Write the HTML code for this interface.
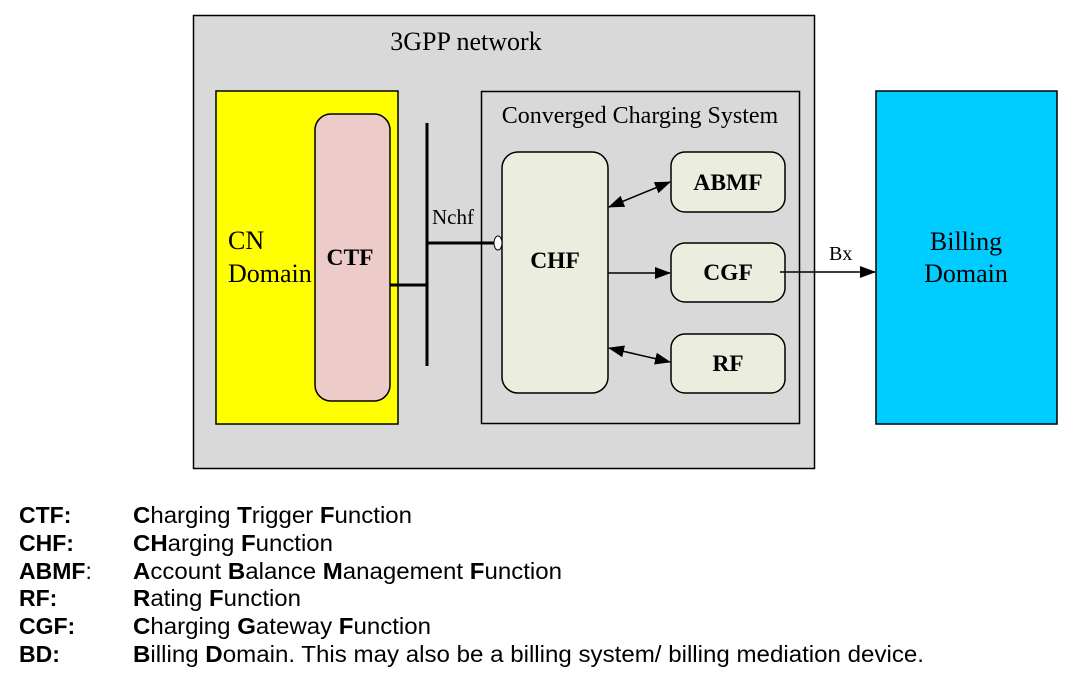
<!DOCTYPE html>
<html><head><style>body{margin:0;background:#fff}svg{display:block}</style></head><body>
<svg width="1079" height="686" xmlns="http://www.w3.org/2000/svg">
<defs>
<marker id="b" markerWidth="16" markerHeight="12" refX="15" refY="6" orient="auto-start-reverse" markerUnits="userSpaceOnUse"><path d="M0,0 L16,6 L0,12z" fill="#000"/></marker></defs>
<rect x="193.5" y="15.5" width="621" height="453" fill="#d9d9d9" stroke="#000" stroke-width="1.5"/>
<text x="466" y="50" font-family="Liberation Serif,serif" font-size="26" text-anchor="middle">3GPP network</text>
<rect x="216" y="91" width="182" height="333" fill="#ffff00" stroke="#000" stroke-width="1.5"/>
<text x="228" y="249" font-family="Liberation Serif,serif" font-size="26">CN</text>
<text x="228" y="282" font-family="Liberation Serif,serif" font-size="26">Domain</text>
<rect x="315" y="114" width="75" height="287" rx="16" fill="#eccbc9" stroke="#000" stroke-width="1.5"/>
<text x="350" y="265" font-family="Liberation Serif,serif" font-size="23.5" font-weight="bold" text-anchor="middle">CTF</text>
<line x1="427" y1="123" x2="427" y2="366" stroke="#000" stroke-width="3"/>
<line x1="390" y1="285" x2="427" y2="285" stroke="#000" stroke-width="3"/>
<rect x="481.5" y="91.5" width="318" height="332" fill="#d9d9d9" stroke="#000" stroke-width="1.5"/>
<line x1="427" y1="243" x2="494" y2="243" stroke="#000" stroke-width="3"/>
<text x="432" y="224" font-family="Liberation Serif,serif" font-size="21">Nchf</text>
<text x="640" y="123" font-family="Liberation Serif,serif" font-size="24" text-anchor="middle">Converged Charging System</text>
<rect x="502" y="152" width="106" height="241" rx="16" fill="#ebeedf" stroke="#000" stroke-width="1.5"/>
<ellipse cx="498" cy="243" rx="4" ry="7" fill="#fff" stroke="#000"/>
<text x="555" y="268" font-family="Liberation Serif,serif" font-size="23.5" font-weight="bold" text-anchor="middle">CHF</text>
<rect x="671" y="152" width="114" height="60" rx="14" fill="#ebeedf" stroke="#000" stroke-width="1.5"/>
<text x="728" y="190" font-family="Liberation Serif,serif" font-size="23.5" font-weight="bold" text-anchor="middle">ABMF</text>
<rect x="671" y="243" width="114" height="59" rx="14" fill="#ebeedf" stroke="#000" stroke-width="1.5"/>
<text x="728" y="280" font-family="Liberation Serif,serif" font-size="23.5" font-weight="bold" text-anchor="middle">CGF</text>
<rect x="671" y="334" width="114" height="59" rx="14" fill="#ebeedf" stroke="#000" stroke-width="1.5"/>
<text x="728" y="371" font-family="Liberation Serif,serif" font-size="23.5" font-weight="bold" text-anchor="middle">RF</text>
<line x1="609" y1="207" x2="670" y2="182" stroke="#000" stroke-width="1.5" marker-start="url(#b)" marker-end="url(#b)"/>
<line x1="608" y1="273" x2="670" y2="273" stroke="#000" stroke-width="1.5" marker-end="url(#b)"/>
<line x1="609" y1="348" x2="670" y2="362" stroke="#000" stroke-width="1.5" marker-start="url(#b)" marker-end="url(#b)"/>
<line x1="780" y1="272" x2="875" y2="272" stroke="#000" stroke-width="1.5" marker-end="url(#b)"/>
<text x="829" y="260" font-family="Liberation Serif,serif" font-size="20">Bx</text>
<rect x="876" y="91" width="181" height="333" fill="#00ccff" stroke="#000" stroke-width="1.5"/>
<text x="966" y="250" font-family="Liberation Serif,serif" font-size="26" text-anchor="middle">Billing</text>
<text x="966" y="282" font-family="Liberation Serif,serif" font-size="26" text-anchor="middle">Domain</text>
<g font-family="Liberation Sans,Arial,sans-serif" font-size="23">
<text x="19" y="523" font-weight="bold">CTF:</text><text x="133" y="523" textLength="279" lengthAdjust="spacingAndGlyphs"><tspan font-weight="bold">C</tspan>harging <tspan font-weight="bold">T</tspan>rigger <tspan font-weight="bold">F</tspan>unction</text>
<text x="19" y="551" font-weight="bold">CHF:</text><text x="133" y="551" textLength="200" lengthAdjust="spacingAndGlyphs"><tspan font-weight="bold">CH</tspan>arging <tspan font-weight="bold">F</tspan>unction</text>
<text x="19" y="579"><tspan font-weight="bold">ABMF</tspan>:</text><text x="133" y="579" textLength="429" lengthAdjust="spacingAndGlyphs"><tspan font-weight="bold">A</tspan>ccount <tspan font-weight="bold">B</tspan>alance <tspan font-weight="bold">M</tspan>anagement <tspan font-weight="bold">F</tspan>unction</text>
<text x="19" y="606" font-weight="bold">RF:</text><text x="133" y="606" textLength="168" lengthAdjust="spacingAndGlyphs"><tspan font-weight="bold">R</tspan>ating <tspan font-weight="bold">F</tspan>unction</text>
<text x="19" y="634" font-weight="bold">CGF:</text><text x="133" y="634" textLength="298" lengthAdjust="spacingAndGlyphs"><tspan font-weight="bold">C</tspan>harging <tspan font-weight="bold">G</tspan>ateway <tspan font-weight="bold">F</tspan>unction</text>
<text x="19" y="662" font-weight="bold">BD:</text><text x="133" y="662" textLength="791" lengthAdjust="spacingAndGlyphs"><tspan font-weight="bold">B</tspan>illing <tspan font-weight="bold">D</tspan>omain. This may also be a billing system/ billing mediation device.</text>
</g>
</svg>
</body></html>
